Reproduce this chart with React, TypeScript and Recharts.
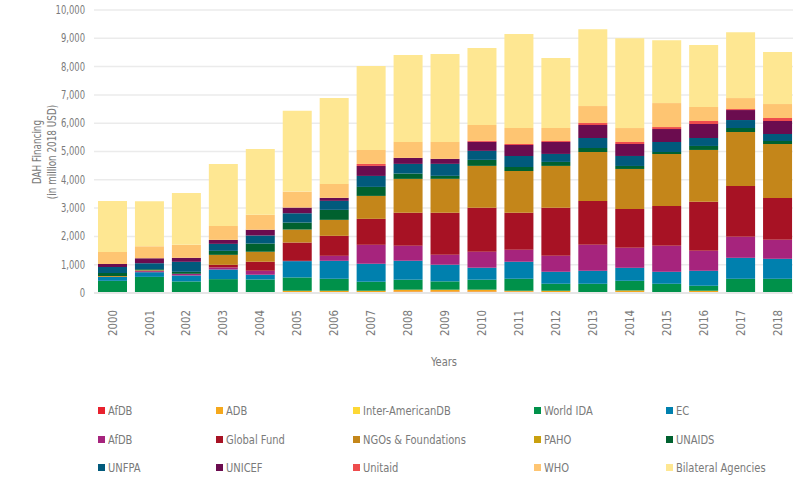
import React from 'react';
import { BarChart, Bar, XAxis, YAxis, CartesianGrid, Legend } from 'recharts';

const FONT = "'DejaVu Sans Condensed', 'Liberation Sans Narrow', Roboto, sans-serif";
const TEXT_COLOR = '#7a7a7a';

const years = ['2000','2001','2002','2003','2004','2005','2006','2007','2008','2009','2010','2011','2012','2013','2014','2015','2016','2017','2018'];

const afdb       = [10, 10, 20, 20, 20, 20, 20, 20, 47, 47, 47, 47, 20, 20, 20, 20, 20, 0, 20];
const adb        = [0, 0, 0, 0, 0, 60, 60, 60, 70, 70, 70, 35, 60, 0, 70, 0, 60, 0, 0];
const iadb       = [0, 0, 0, 0, 0, 0, 0, 0, 0, 0, 0, 0, 0, 0, 0, 0, 0, 20, 0];
const worldIda   = [420, 560, 388, 470, 459, 470, 423, 318, 353, 294, 353, 423, 247, 306, 341, 306, 176, 482, 482];
const ec         = [141, 165, 212, 341, 165, 576, 635, 635, 670, 588, 423, 600, 423, 459, 459, 423, 529, 741, 706];
const afdb2      = [0, 35, 59, 70, 141, 10, 176, 670, 529, 353, 565, 423, 565, 917, 706, 917, 706, 741, 670];
const globalFund = [0, 15, 0, 94, 318, 647, 706, 917, 1164, 1482, 1552, 1305, 1694, 1552, 1376, 1411, 1729, 1800, 1482];
const ngos       = [30, 20, 0, 353, 353, 459, 565, 811, 1200, 1200, 1482, 1482, 1482, 1729, 1411, 1835, 1835, 1905, 1905];
const paho       = [0, 0, 0, 0, 0, 0, 0, 0, 0, 0, 0, 0, 0, 0, 0, 0, 0, 0, 0];
const unaids     = [106, 35, 70, 141, 294, 247, 353, 318, 188, 106, 212, 141, 141, 141, 106, 70, 141, 141, 106];
const unfpa      = [212, 212, 353, 247, 282, 329, 318, 388, 341, 423, 318, 388, 282, 353, 353, 353, 282, 282, 247];
const unicef     = [106, 176, 141, 141, 200, 200, 106, 353, 212, 176, 318, 388, 423, 459, 423, 459, 494, 353, 459];
const unitaid    = [0, 0, 0, 0, 0, 0, 0, 70, 0, 0, 35, 35, 35, 70, 70, 70, 106, 35, 106];
const who        = [423, 423, 459, 494, 529, 565, 494, 494, 565, 600, 565, 565, 459, 600, 494, 847, 494, 388, 494];
const bilateral  = [1800, 1588, 1835, 2188, 2329, 2858, 3034, 2964, 3069, 3105, 2717, 3316, 2470, 2717, 3175, 2223, 2188, 2329, 1835];

const seriesNames = ['AfDB', 'ADB', 'Inter-AmericanDB', 'World IDA', 'EC', 'AfDB', 'Global Fund', 'NGOs & Foundations', 'PAHO', 'UNAIDS', 'UNFPA', 'UNICEF', 'Unitaid', 'WHO', 'Bilateral Agencies'];
const seriesColors = ['#e8212e', '#f5a81c', '#fdd835', '#00914a', '#0080ae', '#a6247d', '#a71224', '#c4861a', '#c9a00f', '#00612f', '#015a7c', '#6b0c4f', '#ee4c4d', '#fec572', '#fee792'];
const seriesValues = [afdb, adb, iadb, worldIda, ec, afdb2, globalFund, ngos, paho, unaids, unfpa, unicef, unitaid, who, bilateral];

const yTicks = [0, 1000, 2000, 3000, 4000, 5000, 6000, 7000, 8000, 9000, 10000];

const data = years.map((year, i) => {
  const row: Record<string, any> = { year };
  seriesValues.forEach((arr, j) => { row['s' + j] = arr[i]; });
  return row;
});

const legendColX = [98, 216, 353, 534, 666];
const legendRowY = [14, 43, 71];

const LegendContent = () => (
  <div style={{ position: 'relative', width: 793, height: 81, fontFamily: FONT }}>
    {seriesNames.map((name, i) => {
      const col = i % 5;
      const row = Math.floor(i / 5);
      return (
        <div key={i} style={{ position: 'absolute', left: legendColX[col], top: legendRowY[row] - 8, height: 16, display: 'flex', alignItems: 'center', whiteSpace: 'nowrap' }}>
          <span style={{ display: 'inline-block', width: 7, height: 7, background: seriesColors[i], marginRight: 3 }} />
          <span style={{ display: 'inline-block', fontSize: 13, color: TEXT_COLOR, transform: 'scaleX(0.85)', transformOrigin: 'left center' }}>{name}</span>
        </div>
      );
    })}
  </div>
);

const XTick = (props: any) => {
  const { x, y, payload } = props;
  return (
    <text transform={`translate(${x} ${y}) rotate(-90) scale(0.95 1)`} x={0} y={0} textAnchor="end" dominantBaseline="central" fill={TEXT_COLOR} fontSize={12} fontFamily={FONT}>
      {payload.value}
    </text>
  );
};

const YTick = (props: any) => {
  const { x, y, payload } = props;
  return (
    <text transform={`translate(${x} ${y}) scale(0.78 1)`} x={0} y={0} textAnchor="end" dominantBaseline="central" fill={TEXT_COLOR} fontSize={12} fontFamily={FONT}>
      {Number(payload.value).toLocaleString('en-US')}
    </text>
  );
};

const YLabel = () => (
  <g>
    <text transform="translate(37 152) rotate(-90) scale(0.82 1)" x={0} y={0} textAnchor="middle" dominantBaseline="central" fill={TEXT_COLOR} fontSize={12} fontFamily={FONT}>DAH Financing</text>
    <text transform="translate(52 152) rotate(-90) scale(0.82 1)" x={0} y={0} textAnchor="middle" dominantBaseline="central" fill={TEXT_COLOR} fontSize={12} fontFamily={FONT}>(in million 2018 USD)</text>
  </g>
);

const XLabel = () => (
  <text transform="translate(444 362) scale(0.85 1)" x={0} y={0} textAnchor="middle" dominantBaseline="central" fill={TEXT_COLOR} fontSize={13} fontFamily={FONT}>Years</text>
);

export default function App() {
  return (
    <div style={{ position: 'absolute', left: 0, top: 0, width: 793, height: 477, overflow: 'hidden', background: '#fff' }}>
      <BarChart width={796} height={477} data={data} margin={{ top: 10, right: 0, left: 0, bottom: 0 }} barSize={29}>
        <CartesianGrid vertical={false} stroke="#ebebeb" strokeWidth={1.5} />
        <XAxis
          dataKey="year"
          height={103}
          tickSize={0}
          tickMargin={17}
          axisLine={{ stroke: '#e6e6e6', strokeWidth: 2 }}
          tickLine={false}
          tick={<XTick />}
          interval={0}
          label={{ content: () => <XLabel /> }}
        />
        <YAxis
          width={94}
          domain={[0, 10000]}
          ticks={yTicks}
          tickSize={0}
          tickMargin={9}
          axisLine={false}
          tickLine={false}
          tick={<YTick />}
          label={{ content: () => <YLabel /> }}
        />
        <Legend verticalAlign="bottom" content={() => <LegendContent />} wrapperStyle={{ left: 0, bottom: 0, width: 793, height: 81 }} />
        {seriesValues.map((_, j) => (
          <Bar key={j} dataKey={'s' + j} name={seriesNames[j]} stackId="a" fill={seriesColors[j]} isAnimationActive={false} />
        ))}
      </BarChart>
    </div>
  );
}
